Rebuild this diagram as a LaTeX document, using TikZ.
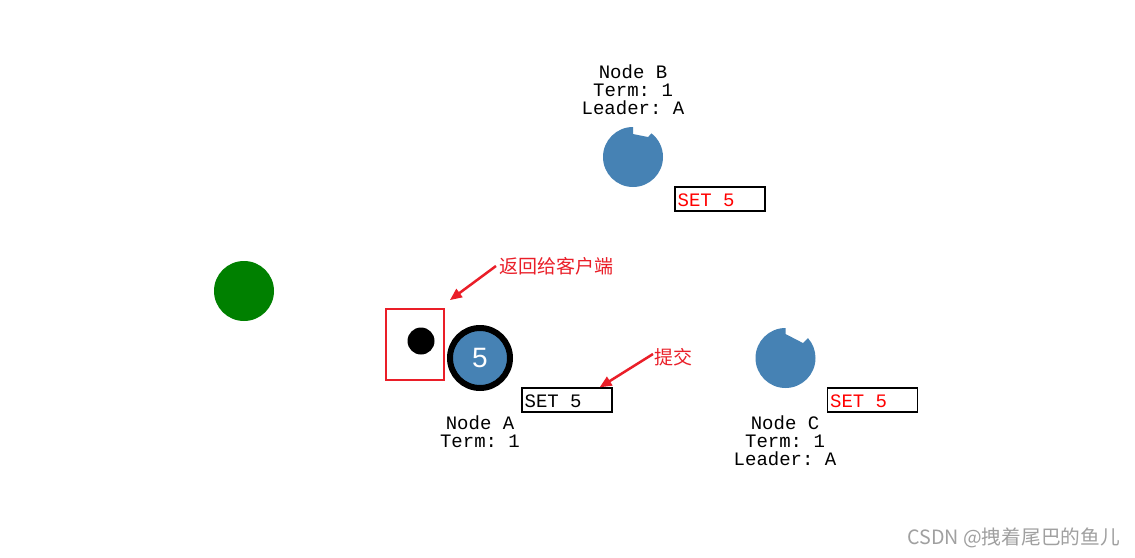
\documentclass[tikz,border=0pt]{standalone}
\usepackage{fontspec}
\setmainfont{Liberation Sans}
\newfontfamily\monofam{Liberation Mono}
\newfontfamily\cjk{Noto Sans CJK SC}
\usetikzlibrary{arrows.meta,calc}
\definecolor{steel}{HTML}{4682B4}
\definecolor{annred}{RGB}{234,30,40}
\definecolor{wmgray}{RGB}{160,160,160}
\definecolor{clientgreen}{RGB}{0,128,0}
\frenchspacing
\begin{document}
\begin{tikzpicture}[x=1pt,y=1pt,
  lbl/.style={font=\monofam\fontsize{19}{18}\selectfont\frenchspacing, align=center, inner sep=0pt},
  setbox/.style={draw=black, line width=1.2pt, minimum height=24pt, minimum width=90pt, inner sep=0pt},
  settext/.style={font=\monofam\fontsize{19}{18}\selectfont\frenchspacing, inner sep=0pt, anchor=west},
  ann/.style={font=\cjk\fontsize{19}{19}\selectfont, text=annred, inner sep=0pt, anchor=west},
  annarrow/.style={draw=annred, line width=2.5pt, -{Triangle[length=12pt,width=10pt]}},
]
\useasboundingbox (0,0) rectangle (1135,-557);
\fill[white] (0,0) rectangle (1135,-557);

% client
\node[circle, fill=clientgreen, minimum size=60pt, inner sep=0pt] (client) at (244,-291) {};

% Node A (leader)
\node[circle, fill=steel, draw=black, line width=6pt, minimum size=60pt, inner sep=0pt, text=white, font=\fontsize{28}{28}\selectfont] (nA) at (480,-358) {5};
\node[circle, fill=black, minimum size=27pt, inner sep=0pt] (msg) at (421,-341) {};
\node[draw=annred, line width=1.8pt, minimum width=58pt, minimum height=71pt, inner sep=0pt] (retbox) at (415,-344.5) {};
\node[lbl] (labA) at (480,-432) {Node A\\Term: 1};
\node[setbox] (setA) at (567,-400) {};
\node[settext] (setAt) at ($(setA.west)+(3,-1)$) {SET 5};

% Node B
\coordinate (nB) at (633,-157);
\fill[steel] ($(nB)+(90:23)$) -- ($(nB)+(90:30)$) arc[start angle=90, end angle=412, radius=30] -- ($(nB)+(53:25)$) -- cycle;
\node[lbl] (labB) at (633,-89.5) {Node B\\Term: 1\\Leader: A};
\node[setbox] (setB) at (720,-199) {};
\node[settext, text=red] (setBt) at ($(setB.west)+(3,-1)$) {SET 5};

% Node C
\coordinate (nC) at (785.5,-358);
\fill[steel] ($(nC)+(90:24)$) -- ($(nC)+(90:30)$) arc[start angle=90, end angle=401.5, radius=30] -- ($(nC)+(40.6:23)$) -- cycle;
\node[lbl] (labC) at (785,-441) {Node C\\Term: 1\\Leader: A};
\node[setbox] (setC) at (872.5,-400) {};
\node[settext, text=red] (setCt) at ($(setC.west)+(3,-1)$) {SET 5};

% annotations
\node[ann] (ann1) at (499,-266) {返回给客户端};
\node[ann] (ann2) at (654,-357) {提交};
\draw[annarrow] ($(ann1.west)+(-3,0)$) -- ($(retbox.north east)+(5,8)$);
\draw[annarrow] ($(ann2.west)+(-1,3)$) -- ($(setA.north east)+(-13,0)$);

% watermark
\node[font=\cjk\fontsize{19.7}{20}\selectfont, text=wmgray, anchor=east, inner sep=0pt] (wmk) at (1120,-538) {CSDN @拽着尾巴的鱼儿};
\end{tikzpicture}
\end{document}
